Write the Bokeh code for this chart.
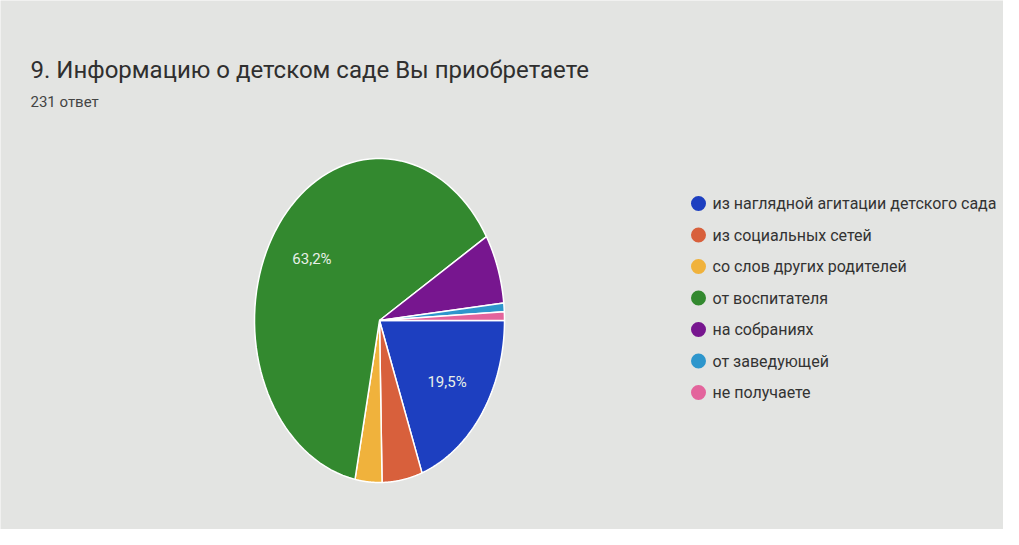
import numpy as np
from bokeh.plotting import figure
from bokeh.models import Range1d
from bokeh.core.properties import value
from bokeh.embed import file_html
from bokeh.resources import INLINE

title = "9. Информацию о детском саде Вы приобретаете"
subtitle = "231 ответ"
categories = [
    "из наглядной агитации детского сада",
    "из социальных сетей",
    "со слов других родителей",
    "от воспитателя",
    "на собраниях",
    "от заведующей",
    "не получаете",
]
counts = [45, 12, 8, 146, 16, 2, 2]
colors = ["#1d3fc0", "#d8603c", "#f0b23c", "#33892f", "#77168f", "#2e96cc", "#e3649c"]

W, H = 1003, 529
p = figure(width=W, height=H, output_backend="svg", toolbar_location=None,
           x_range=Range1d(0, W), y_range=Range1d(0, H), min_border=0)
p.axis.visible = False
p.grid.visible = False
p.outline_line_color = None
p.background_fill_color = "#e3e4e2"
p.border_fill_color = "#e3e4e2"

# pie (slightly elliptical like the photographed screen)
cx, cy, rx, ry = 379, 209, 125, 162
total = sum(counts)
fr = np.array(counts) / total
ends = -np.cumsum(fr) * 2 * np.pi
starts = np.concatenate([[0.0], ends[:-1]])
xs, ys = [], []
for a0, a1 in zip(starts, ends):
    t = np.linspace(a0, a1, 80)
    xs.append(np.concatenate([[cx], cx + rx * np.cos(t)]))
    ys.append(np.concatenate([[cy], cy + ry * np.sin(t)]))
p.patches(xs, ys, fill_color=colors, line_color="white", line_width=1.5)

# percentage labels for big slices
lx, ly, lt = [], [], []
for f, a0, a1 in zip(fr, starts, ends):
    if f > 0.1:
        m = (a0 + a1) / 2
        lx.append(cx + 0.66 * rx * np.cos(m))
        ly.append(cy + 0.66 * ry * np.sin(m))
        lt.append(f"{f*100:.1f}%".replace(".", ","))
p.text(lx, ly, text=lt, text_color="#e8f0e8", text_font=value("Roboto"),
       text_font_size="15px", text_align="center", text_baseline="middle")

# title & subtitle
p.text([30], [460], text=[title], text_font=value("Roboto"), text_font_size="24px",
       text_color="#2f2f2f", text_baseline="alphabetic")
p.text([30], [428], text=[subtitle], text_font=value("Roboto"), text_font_size="15px",
       text_color="#444444", text_baseline="alphabetic")

# legend
n = len(categories)
leg_y = [326 - 31.5 * i for i in range(n)]
p.scatter([698] * n, leg_y, size=15, fill_color=colors, line_color=None)
p.text([712] * n, leg_y, text=categories, text_font=value("Roboto"),
       text_font_size="16px", text_color="#333333", text_baseline="middle")

open("out.html", "w").write(file_html(p, INLINE))
